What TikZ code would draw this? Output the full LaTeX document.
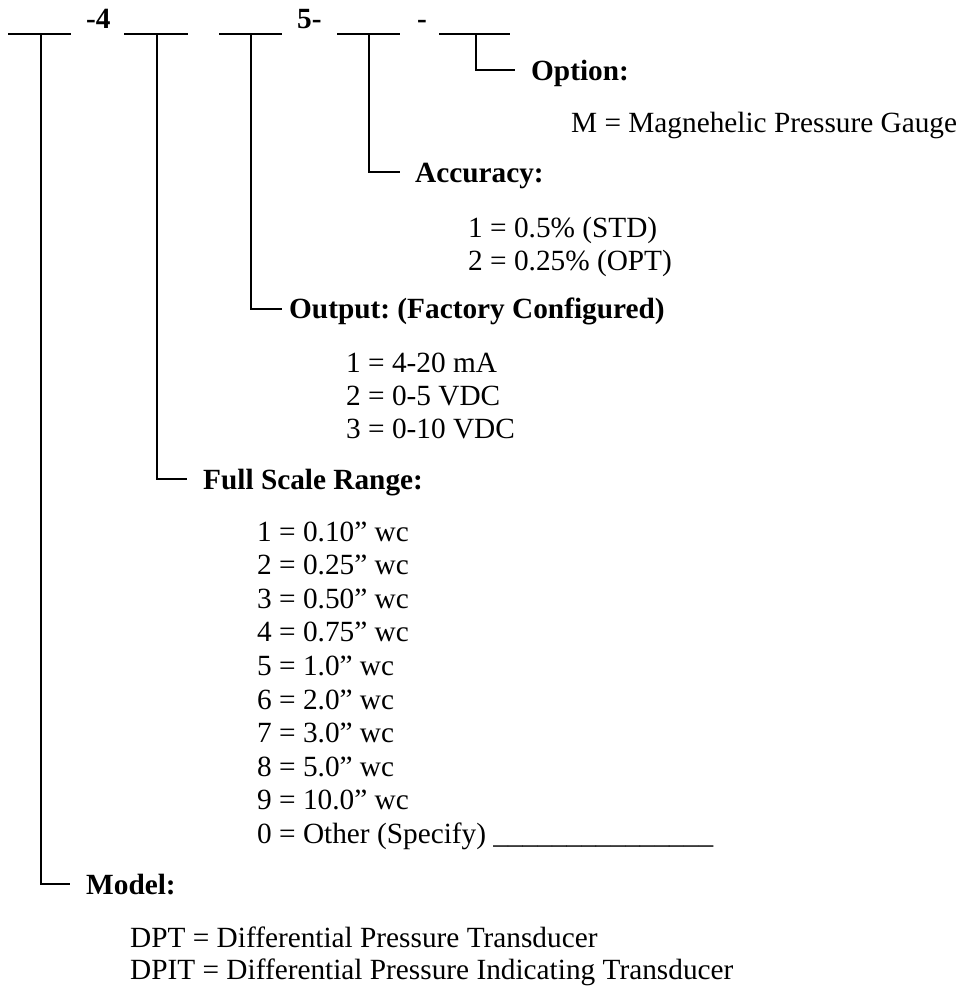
\documentclass[tikz,border=0pt]{standalone}
\usepackage{fontspec}
\setmainfont{Liberation Serif}
\frenchspacing
\begin{document}
\begin{tikzpicture}[x=1pt,y=-1pt,
  txt/.style={anchor=base west,inner sep=0pt,font=\fontsize{29.3}{33.6}\selectfont},
  hd/.style={anchor=base west,inner sep=0pt,font=\fontsize{29.3}{33.6}\selectfont\bfseries},
  ln/.style={line width=2pt}]
\useasboundingbox (0,0) rectangle (958,986);
% top code row
\coordinate (s1a) at (8,34);   \coordinate (s1b) at (71,34);
\coordinate (s2a) at (124,34); \coordinate (s2b) at (188,34);
\coordinate (s3a) at (219,34); \coordinate (s3b) at (282,34);
\coordinate (s4a) at (337,34); \coordinate (s4b) at (400,34);
\coordinate (s5a) at (439,34); \coordinate (s5b) at (510,34);
\foreach \i in {1,...,5} \draw[ln] (s\i a) -- (s\i b);
\node[hd] (c1) at (86,28) {-4};
\node[hd] (c2) at (297,28) {5-};
\node[hd] (c3) at (417,28) {-};
% stem tops
\coordinate (v1) at (41,34);
\coordinate (v2) at (157,34);
\coordinate (v3) at (251,34);
\coordinate (v4) at (369,34);
\coordinate (v5) at (476,34);
% tick ends
\coordinate (e5) at (515,70);
\coordinate (e4) at (400,172);
\coordinate (e3) at (282,309);
\coordinate (e2) at (187,479);
\coordinate (e1) at (70,884);
\foreach \i in {1,...,5} \draw[ln] (v\i) |- (e\i);
% Option
\node[hd] (opt) at (531,80) {Option:};
\node[txt] (optm) at (571,132) {M = Magnehelic Pressure Gauge};
% Accuracy
\node[hd] (acc) at (415,182) {Accuracy:};
\node[txt] (acc1) at (468,237) {1 = 0.5\% (STD)};
\node[txt] (acc2) at (468,270) {2 = 0.25\% (OPT)};
% Output
\node[hd] (out) at (289,318) {Output: (Factory Configured)};
\node[txt] (out1) at (346,372) {1 = 4-20 mA};
\node[txt] (out2) at (346,405) {2 = 0-5 VDC};
\node[txt] (out3) at (346,438) {3 = 0-10 VDC};
% Full scale range
\node[hd] (fsr) at (203,489) {Full Scale Range:};
\node[txt] (r1) at (257,541.0) {1 = 0.10” wc};
\node[txt] (r2) at (257,574.6) {2 = 0.25” wc};
\node[txt] (r3) at (257,608.2) {3 = 0.50” wc};
\node[txt] (r4) at (257,641.8) {4 = 0.75” wc};
\node[txt] (r5) at (257,675.4) {5 = 1.0” wc};
\node[txt] (r6) at (257,709.0) {6 = 2.0” wc};
\node[txt] (r7) at (257,742.6) {7 = 3.0” wc};
\node[txt] (r8) at (257,776.2) {8 = 5.0” wc};
\node[txt] (r9) at (257,809.8) {9 = 10.0” wc};
\node[txt] (r0) at (257,843.4) {0 = Other (Specify) \_\_\_\_\_\_\_\_\_\_\_\_\_\_\_};
% Model
\node[hd] (mod) at (86,894) {Model:};
\node[txt] (mod1) at (130,947) {DPT = Differential Pressure Transducer};
\node[txt] (mod2) at (130,979) {DPIT = Differential Pressure Indicating Transducer};
\end{tikzpicture}
\end{document}
